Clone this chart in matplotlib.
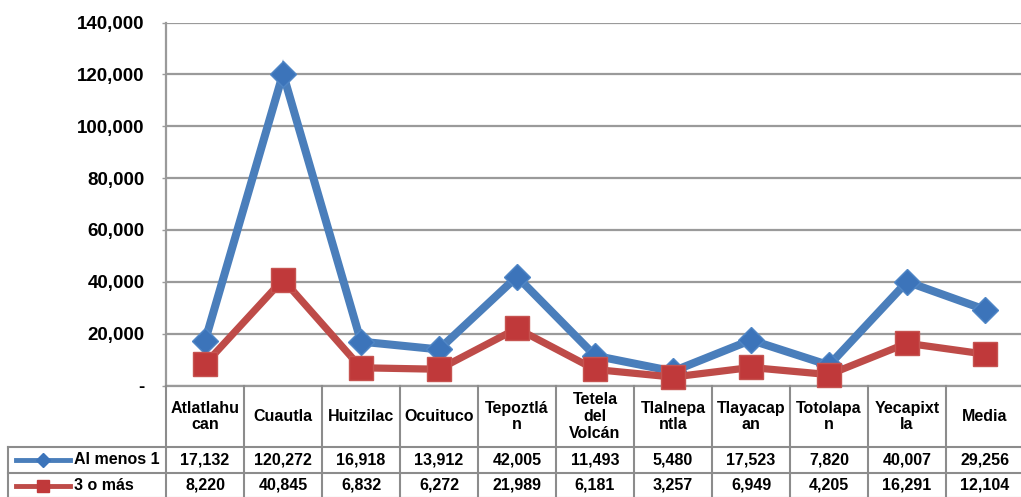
import matplotlib
matplotlib.use("Agg")
import matplotlib.pyplot as plt
import matplotlib.transforms as mtransforms
from matplotlib.lines import Line2D

plt.rcParams['font.family'] = ['Liberation Sans', 'DejaVu Sans']

categories = ["Atlatlahu\ncan", "Cuautla", "Huitzilac", "Ocuituco", "Tepoztlá\nn",
              "Tetela\ndel\nVolcán", "Tlalnepa\nntla", "Tlayacap\nan", "Totolapa\nn",
              "Yecapixt\nla", "Media"]
series_names = ["Al menos 1", "3 o más"]
al_menos_1 = [17132, 120272, 16918, 13912, 42005, 11493, 5480, 17523, 7820, 40007, 29256]
tres_o_mas = [8220, 40845, 6832, 6272, 21989, 6181, 3257, 6949, 4205, 16291, 12104]
yticks = [0, 20000, 40000, 60000, 80000, 100000, 120000, 140000]
ytick_labels = ["-", "20,000", "40,000", "60,000", "80,000", "100,000", "120,000", "140,000"]

W, H = 1021, 497
fig = plt.figure(figsize=(W / 100, H / 100), dpi=100)
ax_left, ax_right = 166, 1024
ax_top, ax_bot = 22.5, 385.5
ax = fig.add_axes([ax_left / W, 1 - ax_bot / H, (ax_right - ax_left) / W, (ax_bot - ax_top) / H])

blue_line = "#4a7ebb"
blue_mark = "#3c74ba"
red_line = "#be4b48"
red_mark = "#c0393a"
grid_c = "#9a9a9a"

n = len(categories)
x = list(range(n))
ax.plot(x, al_menos_1, color=blue_line, lw=5.8, marker="D", markersize=13.5,
        markerfacecolor=blue_mark, markeredgecolor="#4f86c6", markeredgewidth=1, zorder=3,
        solid_joinstyle="miter", clip_on=False)
ax.plot(x, tres_o_mas, color=red_line, lw=5.2, marker="s", markersize=17,
        markerfacecolor=red_mark, markeredgecolor="#c65350", markeredgewidth=1, zorder=4,
        solid_joinstyle="miter", clip_on=False)

ax.set_xlim(-0.5, n - 0.5)
ax.set_ylim(0, 140000)
ax.set_yticks(yticks)
ax.set_yticklabels(ytick_labels, fontsize=13.5, fontweight="bold")
ax.tick_params(axis="y", length=3, width=1, color=grid_c, pad=12.5)
ax.set_xticks([])
ax.grid(axis="y", color=grid_c, lw=1.6)
ax.set_axisbelow(True)
for s in ["top", "right", "bottom"]:
    ax.spines[s].set_visible(False)
ax.spines["left"].set_color(grid_c)
ax.spines["left"].set_linewidth(1.6)
ax.axhline(0, color=grid_c, lw=1.6, zorder=2, clip_on=False)

# Data table below the axes
def fy(py):
    return 1 - py / H

trans = mtransforms.blended_transform_factory(ax.transData, fig.transFigure)
row_tops = [385.5, 447, 473, 498]
table_c = "#8c8c8c"
tlw = 1.5
# vertical boundaries
for b in range(n + 1):
    xb = b - 0.5
    fig.add_artist(Line2D([xb, xb], [fy(385.5), fy(498)], transform=trans, color=table_c, lw=tlw))
# horizontal lines
for yy in row_tops[1:]:
    fig.add_artist(Line2D([8 / W, 1.0], [fy(yy), fy(yy)], transform=fig.transFigure, color=table_c, lw=tlw))
fig.add_artist(Line2D([8 / W, 8 / W], [fy(447), fy(498)], transform=fig.transFigure, color=table_c, lw=tlw))

for i, c in enumerate(categories):
    fig.text(i, fy(416.5), c, transform=trans, ha="center", va="center",
             fontsize=11.5, fontweight="bold", linespacing=1.15)

for r, (vals, name, lc, mc, mk, ms) in enumerate([
        (al_menos_1, series_names[0], blue_line, blue_mark, "D", 7),
        (tres_o_mas, series_names[1], red_line, red_mark, "s", 8)]):
    yc = fy((row_tops[r + 1] + row_tops[r + 2]) / 2)
    for i, v in enumerate(vals):
        fig.text(i, yc, f"{v:,}", transform=trans, ha="center", va="center",
                 fontsize=11.5, fontweight="bold")
    fig.add_artist(Line2D([16 / W, 70 / W], [yc, yc], transform=fig.transFigure, color=lc, lw=3.5))
    fig.add_artist(Line2D([43 / W], [yc], transform=fig.transFigure, marker=mk, markersize=ms,
                          color=mc, markeredgecolor=mc, linestyle="none"))
    fig.text(74 / W, yc, name, ha="left", va="center", fontsize=11.5, fontweight="bold")

fig.savefig("out.png", dpi=100)
